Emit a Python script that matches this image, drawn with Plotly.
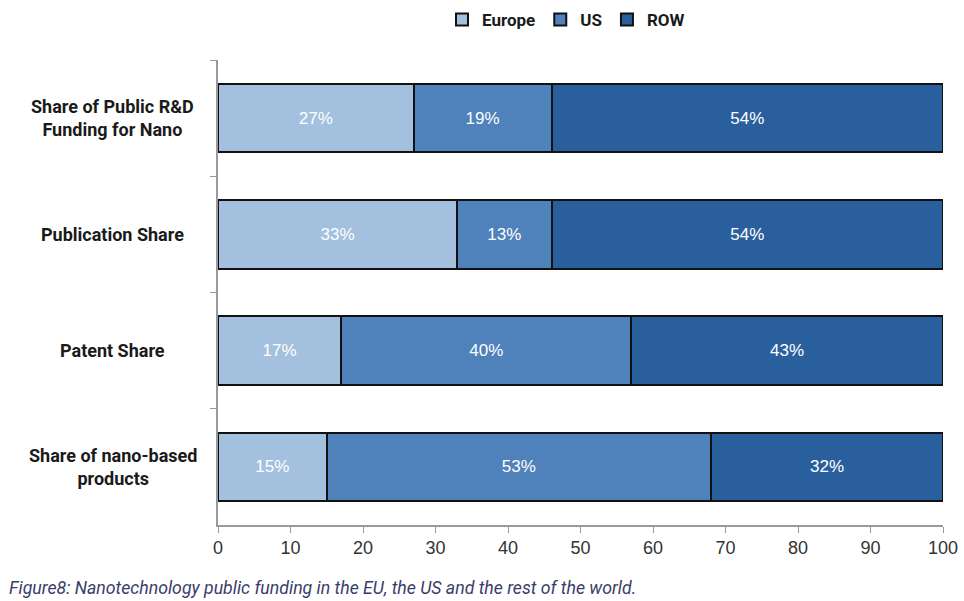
import plotly.graph_objects as go

categories = ["Share of Public R&D<br>Funding for Nano", "Publication Share",
              "Patent Share", "Share of nano-based<br>products"]
europe = [27, 33, 17, 15]
us = [19, 13, 40, 53]
row = [54, 54, 43, 32]
series_names = ["Europe", "US", "ROW"]
colors = ["#a3c1de", "#4f81bb", "#2a5f9e"]
x_ticks = list(range(0, 101, 10))
caption = "Figure8: Nanotechnology public funding in the EU, the US and the rest of the world."

COND = "Roboto, Liberation Sans, Arial, sans-serif"

fig = go.Figure()
for name, vals, col in zip(series_names, [europe, us, row], colors):
    fig.add_trace(go.Bar(
        y=categories, x=vals, name=name, orientation="h",
        marker=dict(color=col, line=dict(color="#111111", width=2)),
        text=[f"{v}%" for v in vals], textposition="inside",
        insidetextanchor="middle",
        textfont=dict(color="white", size=17, family="Liberation Sans, Arial, sans-serif"),
        hoverinfo="skip",
    ))

for c in categories:
    fig.add_annotation(
        x=-0.145, xref="paper", y=c, yref="y", text=f"<b>{c}</b>",
        showarrow=False, xanchor="center", yanchor="middle", align="center",
        font=dict(family=COND, size=18, color="#1a1a1a"),
    )

fig.add_annotation(
    x=0, xref="paper", y=0, yref="paper", text=f"<i>{caption}</i>",
    xshift=-211, yshift=-63, showarrow=False, xanchor="left", yanchor="middle",
    font=dict(family=COND, size=17.7, color="#3a3d6b"),
)

fig.update_layout(
    width=964, height=601,
    barmode="stack", bargap=0.41,
    plot_bgcolor="white", paper_bgcolor="white",
    margin=dict(l=218, r=21, t=60, b=76, autoexpand=False),
    legend=dict(orientation="h", x=0.48, xanchor="center", y=1.086, yanchor="middle",
                font=dict(family=COND, size=17, color="#1a1a1a", weight="bold"),
                traceorder="normal", itemwidth=30),
    showlegend=True,
)
fig.update_xaxes(range=[0, 100], tickvals=x_ticks, showgrid=False, zeroline=False,
                 showline=True, linecolor="#9a9a9a", linewidth=1.5,
                 ticks="outside", ticklen=6, tickcolor="#9a9a9a", automargin=False,
                 tickfont=dict(family="Liberation Sans, Arial, sans-serif", size=18, color="#333333"),
                 fixedrange=True)
fig.update_yaxes(autorange="reversed", showticklabels=False, showgrid=False,
                 showline=True, linecolor="#9a9a9a", linewidth=1.5, automargin=False,
                 ticks="outside", ticklen=6, tickcolor="#9a9a9a", tickson="boundaries",
                 fixedrange=True)

fig.write_html("out.html")
